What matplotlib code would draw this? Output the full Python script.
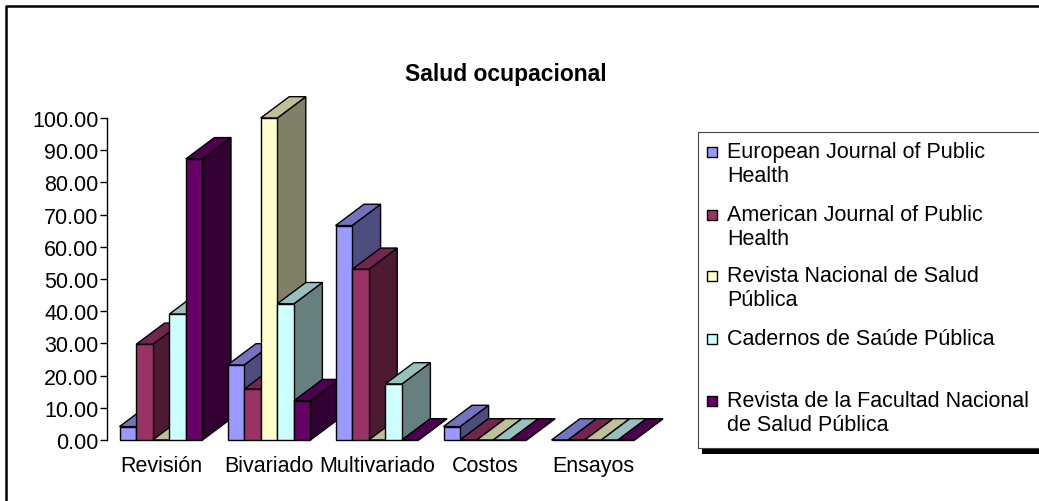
import matplotlib
matplotlib.use("Agg")
import matplotlib.pyplot as plt
from matplotlib.patches import Polygon, Rectangle
from matplotlib.lines import Line2D
from matplotlib.colors import to_rgb

plt.rcParams["font.family"] = ["Liberation Sans", "DejaVu Sans"]

# datos
categories = ["Revisión", "Bivariado", "Multivariado", "Costos", "Ensayos"]
journals = [
    "European Journal of Public\nHealth",
    "American Journal of Public\nHealth",
    "Revista Nacional de Salud\nPública",
    "Cadernos de Saúde Pública",
    "Revista de la Facultad Nacional\nde Salud Pública",
]
european = [4.17, 23.3, 66.6, 4.17, 0.0]
american = [29.7, 15.8, 53.0, 0.0, 0.0]
revista_nacional = [0.0, 100.0, 0.0, 0.0, 0.0]
cadernos = [39.1, 42.3, 17.4, 0.0, 0.0]
facultad = [87.3, 12.2, 0.0, 0.0, 0.0]
series = [european, american, revista_nacional, cadernos, facultad]
colors = ["#9999FF", "#993366", "#FFFFCC", "#CCFFFF", "#660066"]

W, H = 1039, 502
fig = plt.figure(figsize=(W / 100, H / 100), dpi=100)


def px(x, y):
    return x / W, 1 - y / H


def shade(c, k):
    r, g, b = to_rgb(c)
    return (r * k, g * k, b * k)


# área de trazado
ax = fig.add_axes([107 / W, (H - 441) / H, 540 / W, 322 / H])
ax.set_xlim(0, len(categories))
ax.set_ylim(0, 100)
for s in ["top", "right", "bottom"]:
    ax.spines[s].set_visible(False)
ax.spines["left"].set_linewidth(1.0)
ax.set_yticks(range(0, 101, 10))
ax.set_yticklabels([f"{v:.2f}" for v in range(0, 101, 10)], fontsize=15.5)
ax.tick_params(axis="y", length=5, width=1, pad=1)
ax.set_xticks([i + 0.5 for i in range(len(categories))])
ax.set_xticklabels(categories, fontsize=15.5)
ax.tick_params(axis="x", length=0, pad=11)

# barras con efecto 3D
bar_w = 0.1537
dx = 28.5 / 108
dy = 21.3 / 3.22
z = 2
for i in range(len(categories)):
    start = i + 0.5 - bar_w * len(series) / 2
    for j, (vals, col) in enumerate(zip(series, colors)):
        v = vals[i]
        x0 = start + j * bar_w
        x1 = x0 + bar_w
        front = Polygon([(x0, 0), (x1, 0), (x1, v), (x0, v)], closed=True,
                        facecolor=col, edgecolor="black", lw=1.0, clip_on=False, zorder=z)
        side = Polygon([(x1, 0), (x1 + dx, dy), (x1 + dx, v + dy), (x1, v)], closed=True,
                       facecolor=shade(col, 0.5), edgecolor="black", lw=1.0, clip_on=False, zorder=z)
        top = Polygon([(x0, v), (x0 + dx, v + dy), (x1 + dx, v + dy), (x1, v)], closed=True,
                      facecolor=shade(col, 0.75), edgecolor="black", lw=1.0, clip_on=False, zorder=z)
        ax.add_patch(side)
        ax.add_patch(top)
        ax.add_patch(front)
        z += 1

# título
fig.text(*px(506, 75), "Salud ocupacional", fontsize=16.5, fontweight="bold",
         ha="center", va="center")

# borde exterior
fig.add_artist(Line2D([6 / W, 6 / W, 1.01], [-0.01, 1 - 7 / H, 1 - 7 / H],
                      color="black", lw=1.8, transform=fig.transFigure))

# leyenda
fig.add_artist(Rectangle(px(702, 455), (1050 - 702) / W, 6 / H, transform=fig.transFigure,
                         facecolor="black", edgecolor="none"))
fig.add_artist(Rectangle(px(698, 449), (1050 - 698) / W, (449 - 133) / H, transform=fig.transFigure,
                         facecolor="white", edgecolor="#444444", lw=0.8))
row_y = [153, 216, 277, 340, 402]
for name, col, yy in zip(journals, colors, row_y):
    fig.add_artist(Rectangle(px(707, yy + 5), 10 / W, 10 / H, transform=fig.transFigure,
                             facecolor=col, edgecolor="black", lw=1.0))
    fig.text(*px(727, yy - 11), name, fontsize=15.5, ha="left", va="top",
             linespacing=1.2)

fig.savefig("out.png", dpi=100)
